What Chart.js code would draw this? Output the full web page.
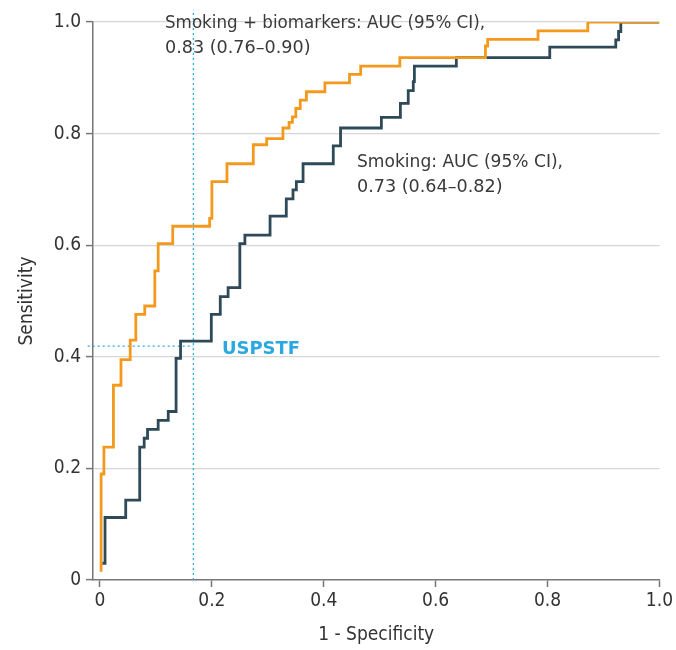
<!DOCTYPE html>
<html><head><meta charset="utf-8">
<script src="https://cdn.jsdelivr.net/npm/chart.js@4/dist/chart.umd.min.js"></script>
<style>html,body{margin:0;padding:0;background:#fff}#wrap{width:676px;height:650px}</style>
</head><body><div id="wrap"><canvas id="c" width="676" height="650"></canvas></div>
<script>
// 1 - specificity / sensitivity corner points (top of each vertical rise)
const biomarkersFpr = [0.002,0.002,0.007,0.024,0.0375,0.054,0.064,0.080,0.098,0.104,0.130,0.196,0.200,0.227,0.274,0.298,0.327,0.338,0.344,0.350,0.358,0.369,0.402,0.446,0.466,0.536,0.689,0.693,0.783,0.872,1.0];
const biomarkersTpr = [0.015,0.190,0.238,0.349,0.395,0.430,0.476,0.491,0.554,0.603,0.634,0.648,0.714,0.746,0.780,0.791,0.810,0.820,0.830,0.845,0.860,0.875,0.891,0.906,0.921,0.936,0.957,0.969,0.984,1.0,1.0];
const smokingFpr = [0.004,0.009,0.046,0.071,0.079,0.085,0.104,0.122,0.136,0.144,0.199,0.215,0.229,0.250,0.259,0.304,0.333,0.345,0.351,0.363,0.417,0.430,0.503,0.537,0.551,0.560,0.562,0.637,0.804,0.922,0.927,0.931,1.0];
const smokingTpr = [0.030,0.112,0.143,0.238,0.254,0.270,0.286,0.302,0.397,0.428,0.476,0.508,0.524,0.603,0.618,0.652,0.683,0.699,0.714,0.746,0.778,0.810,0.829,0.854,0.877,0.893,0.921,0.936,0.955,0.968,0.983,1.0,1.0];
const usptfFpr = 0.167;
const usptfTpr = 0.419;
const xTicks = [0,0.2,0.4,0.6,0.8,1.0];
const yTicks = [0,0.2,0.4,0.6,0.8,1.0];
const labelBiomarkers = ["Smoking + biomarkers: AUC (95% CI),", "0.83 (0.76\u20130.90)"];
const labelSmoking = ["Smoking: AUC (95% CI),", "0.73 (0.64\u20130.82)"];
const labelUspstf = "USPSTF";

const FONT = "'Liberation Sans Narrow','DejaVu Sans Condensed','Roboto Condensed',sans-serif";
const ORANGE = '#F39A1E', DARK = '#2E4A58', BLUE = '#2BA8E0';
const pts = (xs, ys) => xs.map((x, i) => ({x, y: ys[i]}));

const annot = {
  id: 'annot',
  afterDatasetsDraw(chart) {
    const {ctx, scales: {x, y}} = chart;
    ctx.save();
    ctx.font = `17px ${FONT}`;
    ctx.fillStyle = '#3a3a3a';
    ctx.textBaseline = 'alphabetic';
    ctx.textAlign = 'left';
    const draw = (t, px, py, w) => {
      const m = ctx.measureText(t).width;
      ctx.save();
      ctx.translate(px, py);
      if (w) ctx.scale(Math.max(0.8, Math.min(1.15, w / m)), 1);
      ctx.fillText(t, 0, 0);
      ctx.restore();
    };
    draw(labelBiomarkers[0], 165, 28, 320);
    draw(labelBiomarkers[1], 165, 53, 154);
    draw(labelSmoking[0], 357, 167, 206);
    draw(labelSmoking[1], 357, 192, 150);
    ctx.font = `bold 18px ${FONT}`;
    ctx.fillStyle = BLUE;
    draw(labelUspstf, 222, y.getPixelForValue(usptfTpr) + 8, 78);
    ctx.restore();
  }
};

new Chart(document.getElementById('c'), {
  type: 'line',
  data: {
    datasets: [
      {data: [{x: usptfFpr, y: 0}, {x: usptfFpr, y: 1.022}], borderColor: BLUE, borderWidth: 1.3, borderDash: [2, 3], pointRadius: 0, clip: false, order: 3},
      {data: [{x: -0.022, y: usptfTpr}, {x: usptfFpr, y: usptfTpr}], borderColor: BLUE, borderWidth: 1.3, borderDash: [2, 3], pointRadius: 0, clip: false, order: 3},
      {label: 'Smoking', data: pts(smokingFpr, smokingTpr), borderColor: DARK, borderWidth: 2.8, stepped: 'before', pointRadius: 0, fill: false, order: 2},
      {label: 'Smoking + biomarkers', data: pts(biomarkersFpr, biomarkersTpr), borderColor: ORANGE, borderWidth: 2.8, stepped: 'before', pointRadius: 0, fill: false, order: 1}
    ]
  },
  options: {
    responsive: false, animation: false, devicePixelRatio: 1,
    layout: {padding: {top: 22, right: 16, left: 0, bottom: 0}},
    plugins: {legend: {display: false}, tooltip: {enabled: false}},
    scales: {
      x: {
        type: 'linear', min: -0.0125, max: 1.0,
        afterBuildTicks: s => { s.ticks = xTicks.map(v => ({value: v})); },
        afterFit: s => { s.height = 70; },
        ticks: {font: {family: FONT, size: 19}, color: '#333', padding: 3, maxRotation: 0,
          callback: v => v === 0 ? '0' : v.toFixed(1)},
        grid: {drawOnChartArea: false, drawTicks: true, tickLength: 7, tickColor: '#777', tickWidth: 1.5},
        border: {color: '#777', width: 1.5},
        title: {display: true, text: '1 - Specificity', font: {family: FONT, size: 19}, color: '#333', padding: {top: 1}}
      },
      y: {
        type: 'linear', min: 0, max: 1.0,
        afterBuildTicks: s => { s.ticks = yTicks.map(v => ({value: v})); },
        afterFit: s => { s.width = 93; },
        ticks: {font: {family: FONT, size: 19}, color: '#333', padding: 5,
          callback: v => v === 0 ? '0' : v.toFixed(1)},
        grid: {drawOnChartArea: true, color: c => c.tick && c.tick.value === 0 ? 'rgba(0,0,0,0)' : '#d6d6d6', lineWidth: 1.2, drawTicks: true, tickLength: 7, tickColor: '#777', tickWidth: 1.5},
        border: {color: '#777', width: 1.5},
        title: {display: true, text: 'Sensitivity', font: {family: FONT, size: 19}, color: '#333', padding: {top: 16, bottom: 0}}
      }
    }
  },
  plugins: [annot]
});
</script></body></html>
